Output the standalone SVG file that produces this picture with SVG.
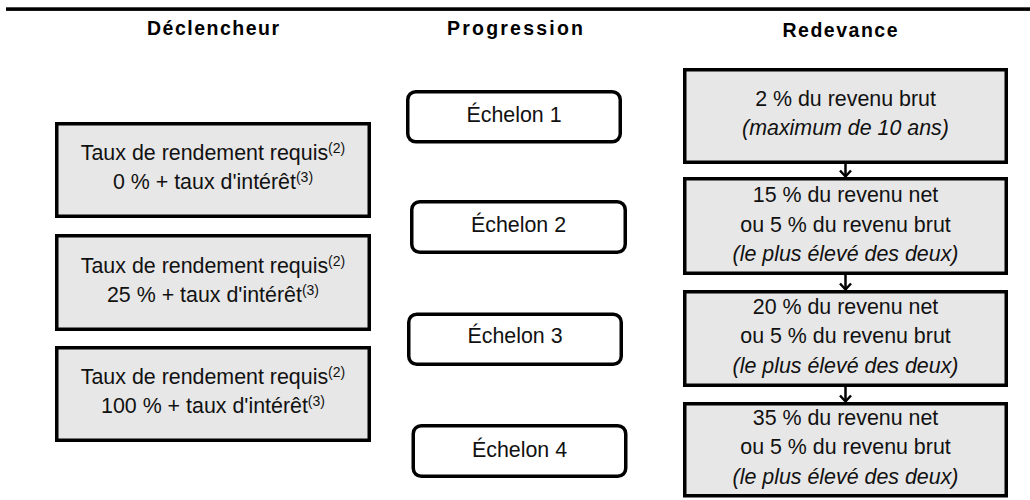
<svg xmlns="http://www.w3.org/2000/svg" width="1030" height="500" viewBox="0 0 1030 500">
<style>
.hd{font-family:"Liberation Sans",Arial,sans-serif;font-size:19.5px;font-weight:bold;fill:#000;text-anchor:middle}
.t{font-family:"Liberation Sans",Arial,sans-serif;font-size:21.4px;fill:#111;text-anchor:middle}
.it{font-style:italic}
.sup{font-size:14px}
.box{fill:#e7e7e7;stroke:#000;stroke-width:3.5}
.rbox{fill:#fff;stroke:#000;stroke-width:3.5}
.con{stroke:#000;stroke-width:2.5;fill:none}
</style>
<defs>
<marker id="arr" markerUnits="userSpaceOnUse" markerWidth="10" markerHeight="14" refX="8" refY="7" orient="auto" viewBox="0 0 10 14">
<path d="M2 1.5 L8 7 L2 12.5" fill="none" stroke="#000" stroke-width="2.5"/>
</marker>
</defs>
<rect x="6" y="7.3" width="1024" height="3.6" fill="#000"/>
<g id="headers">
<text class="hd" x="213" y="34.5" textLength="132" lengthAdjust="spacing">Déclencheur</text>
<text class="hd" x="515" y="35" textLength="136" lengthAdjust="spacing">Progression</text>
<text class="hd" x="840" y="37" textLength="115" lengthAdjust="spacing">Redevance</text>
</g>
<g id="connectors">
<path class="con" d="M845.5 164 V176.5" marker-end="url(#arr)"/>
<path class="con" d="M845.5 275 V289.5" marker-end="url(#arr)"/>
<path class="con" d="M845.5 387 V401.5" marker-end="url(#arr)"/>
</g>
<g id="trigger1">
<rect class="box" x="56.75" y="123.75" width="312.5" height="92.5"/>
<text class="t" x="213" y="160">Taux de rendement requis<tspan class="sup" dy="-7">(2)</tspan></text>
<text class="t" x="213" y="189">0 % + taux d'intérêt<tspan class="sup" dy="-7">(3)</tspan></text>
</g>
<g id="trigger2">
<rect class="box" x="56.75" y="235.75" width="312.5" height="93.5"/>
<text class="t" x="213" y="272.5">Taux de rendement requis<tspan class="sup" dy="-7">(2)</tspan></text>
<text class="t" x="213" y="301.5">25 % + taux d'intérêt<tspan class="sup" dy="-7">(3)</tspan></text>
</g>
<g id="trigger3">
<rect class="box" x="56.75" y="347.75" width="312.5" height="92.5"/>
<text class="t" x="213" y="384">Taux de rendement requis<tspan class="sup" dy="-7">(2)</tspan></text>
<text class="t" x="213" y="413">100 % + taux d'intérêt<tspan class="sup" dy="-7">(3)</tspan></text>
</g>
<g id="step1">
<rect class="rbox" x="407.75" y="91.75" width="212.5" height="50" rx="8"/>
<text class="t" x="514" y="121.7">Échelon 1</text>
</g>
<g id="step2">
<rect class="rbox" x="411.75" y="201.75" width="213.5" height="50.5" rx="8"/>
<text class="t" x="518.5" y="231.7">Échelon 2</text>
</g>
<g id="step3">
<rect class="rbox" x="408.75" y="314.25" width="212.5" height="50" rx="8"/>
<text class="t" x="515" y="343.3">Échelon 3</text>
</g>
<g id="step4">
<rect class="rbox" x="413.25" y="425.75" width="212.5" height="50.5" rx="8"/>
<text class="t" x="519.5" y="456.7">Échelon 4</text>
</g>
<g id="royalty1">
<rect class="box" x="684.75" y="69.75" width="321.5" height="92.5"/>
<text class="t" x="845.5" y="105.7">2 % du revenu brut</text>
<text class="t it" x="845.5" y="135">(maximum de 10 ans)</text>
</g>
<g id="royalty2">
<rect class="box" x="684.75" y="178.75" width="321.5" height="94.5"/>
<text class="t" x="845.5" y="201.7">15 % du revenu net</text>
<text class="t" x="845.5" y="231.5">ou 5 % du revenu brut</text>
<text class="t it" x="845.5" y="261.3">(le plus élevé des deux)</text>
</g>
<g id="royalty3">
<rect class="box" x="684.75" y="291.75" width="321.5" height="93.5"/>
<text class="t" x="845.5" y="313.5">20 % du revenu net</text>
<text class="t" x="845.5" y="343.3">ou 5 % du revenu brut</text>
<text class="t it" x="845.5" y="373.2">(le plus élevé des deux)</text>
</g>
<g id="royalty4">
<rect class="box" x="684.75" y="403.75" width="321.5" height="92"/>
<text class="t" x="845.5" y="425">35 % du revenu net</text>
<text class="t" x="845.5" y="454.3">ou 5 % du revenu brut</text>
<text class="t it" x="845.5" y="484">(le plus élevé des deux)</text>
</g>
</svg>
